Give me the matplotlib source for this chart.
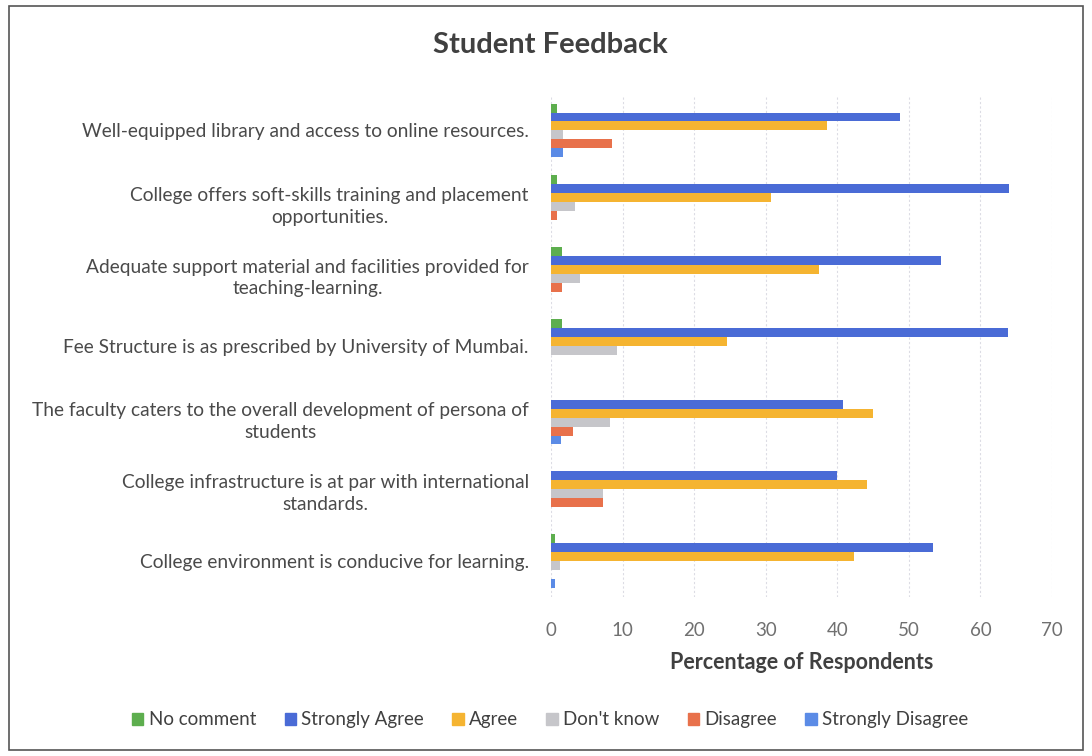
import matplotlib.pyplot as plt
import matplotlib.patches as mpatches
import numpy as np

plt.rcParams['font.family'] = ['Lato', 'DejaVu Sans']

# categories, top to bottom as shown
categories = [
    "Well-equipped library and access to online resources.",
    "College offers soft-skills training and placement\nopportunities.",
    "Adequate support material and facilities provided for\nteaching-learning.",
    "Fee Structure is as prescribed by University of Mumbai.",
    "The faculty caters to the overall development of persona of\nstudents",
    "College infrastructure is at par with international\nstandards.",
    "College environment is conducive for learning.",
]

series_names = ["No comment", "Strongly Agree", "Agree", "Don't know", "Disagree", "Strongly Disagree"]

no_comment = [0.8, 0.8, 1.6, 1.6, 0, 0, 0.6]
strongly_agree = [48.7, 64.0, 54.5, 63.9, 40.8, 39.9, 53.4]
agree = [38.5, 30.7, 37.5, 24.6, 45.0, 44.1, 42.4]
dont_know = [1.7, 3.3, 4.1, 9.2, 8.2, 7.3, 1.3]
disagree = [8.5, 0.8, 1.6, 0, 3.1, 7.3, 0]
strongly_disagree = [1.7, 0, 0, 0, 1.4, 0, 0.6]

colors = ["#5DAE4E", "#4A6BD6", "#F5B431", "#C6C6CA", "#E8714B", "#5B8BE6"]

data = [no_comment, strongly_agree, agree, dont_know, disagree, strongly_disagree]

fig = plt.figure(figsize=(10.92, 7.56), dpi=100)
ax = fig.add_axes([0.5046, 0.2103, 0.4588, 0.6646])

y = np.arange(len(categories))
h = 0.125
for i, (vals, name, c) in enumerate(zip(data, series_names, colors)):
    offs = (i - 2.5) * h
    ax.barh(y + offs, vals, height=h, color=c, label=name, zorder=3)

ax.set_xlim(0, 70)
ax.set_ylim(len(categories) - 0.5, -0.5)
ax.set_xticks(np.arange(0, 71, 10))
ax.set_yticks(y)
ax.set_yticklabels(categories, fontsize=13.8, color="#4a4a4a", multialignment="center", linespacing=1.35)
ax.tick_params(axis="y", length=0, pad=16)
ax.tick_params(axis="x", length=0, pad=18, labelsize=13.5, labelcolor="#707070")
ax.grid(axis="x", color="#dcdce4", linewidth=0.8, linestyle=(0, (2, 2)), zorder=0)
for s in ax.spines.values():
    s.set_visible(False)

ax.set_xlabel("Percentage of Respondents", fontsize=15.5, fontweight="bold", color="#404040", labelpad=9)

fig.text(0.504, 0.94, "Student Feedback", ha="center", va="center", fontsize=21, fontweight="bold", color="#404040")

handles = [mpatches.Patch(color=c, label=n) for c, n in zip(colors, series_names)]
fig.legend(handles=handles, loc="center", bbox_to_anchor=(0.504, 0.048), ncol=6, frameon=False,
           fontsize=13.5, handlelength=0.6, handleheight=0.6, handletextpad=0.3, columnspacing=1.5,
           labelcolor="#404040")

fig.add_artist(mpatches.Rectangle((0.008, 0.008), 0.984, 0.984, transform=fig.transFigure,
                                  fill=False, edgecolor="#555555", linewidth=1.2))

fig.savefig("out.png", dpi=100, facecolor="white")
